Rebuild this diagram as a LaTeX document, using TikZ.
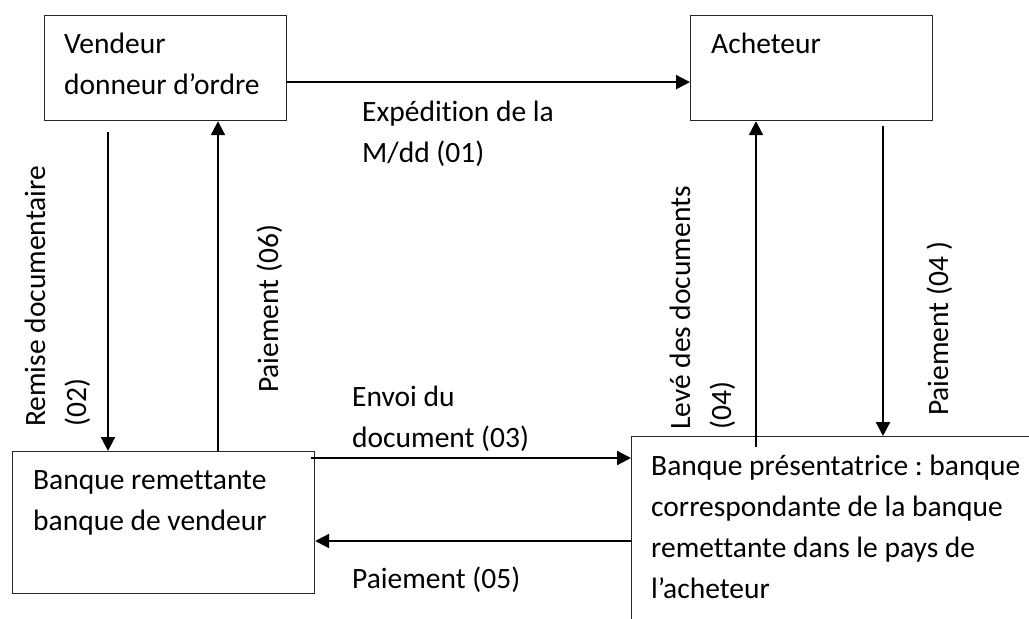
\documentclass[tikz,border=0pt]{standalone}
\usepackage{fontspec}
\setmainfont[Ligatures=NoCommon]{Carlito}
\frenchspacing
\usetikzlibrary{arrows.meta}
\tikzset{
  box/.style={
    draw=black!85,
    line width=1.2pt,
    rectangle,
    inner sep=0pt,
    anchor=north west
  },
  flow/.style={
    -{Triangle[length=14pt, width=14pt]},
    line width=2.2pt
  },
  txt/.style={
    font=\fontsize{29.5}{41}\selectfont,
    align=left,
    inner sep=0pt,
    anchor=base west
  },
  vtxt/.style={
    txt,
    rotate=90
  }
}

\begin{document}
\begin{tikzpicture}[x=1pt, y=-1pt]
    \clip (0,0) rectangle (1029,619);

    % les quatre cases
    \node[box, minimum width=242pt, minimum height=105pt] (vendeur) at (44,15) {};
    \node[box, minimum width=242pt, minimum height=105pt] (acheteur) at (690,15) {};
    \node[box, minimum width=302pt, minimum height=142pt] (remettante) at (12,451) {};
    \node[box, minimum width=420pt, minimum height=200pt] (presentatrice) at (631,436) {};

    % textes des cases (base = derniere ligne)
    \node[txt] (vendeurtxt) at ([xshift=20pt, yshift=-79pt]vendeur.north west) {Vendeur\\donneur d’ordre};
    \node[txt] (acheteurtxt) at ([xshift=21pt, yshift=-38pt]acheteur.north west) {Acheteur};
    \node[txt] (remettantetxt) at ([xshift=21pt, yshift=-79pt]remettante.north west) {Banque remettante\\banque de vendeur};
    \node[txt] (presentatricetxt) at ([xshift=20pt, yshift=-162pt]presentatrice.north west) {Banque présentatrice : banque\\correspondante de la banque\\remettante dans le pays de\\l’acheteur};

    % points de depart des fleches
    \coordinate (remise) at ([xshift=64pt, yshift=-11pt]vendeur.south west);
    \coordinate (paie6) at ([xshift=174pt]vendeur.south west);
    \coordinate (envoi) at ([xshift=-4pt, yshift=-7pt]remettante.north east);
    \coordinate (paie5) at ([yshift=-90pt]remettante.north east);
    \coordinate (leve) at ([xshift=125pt, yshift=-11pt]presentatrice.north west);
    \coordinate (paie4) at ([xshift=193pt, yshift=-5pt]acheteur.south west);

    % fleches
    \draw[flow] ([yshift=-14pt]vendeur.east) -- ([yshift=-14pt]acheteur.west);
    \draw[flow] (remise) -- (remise |- remettante.north);
    \draw[flow] (paie6 |- remettante.north) -- (paie6);
    \draw[flow] (envoi) -- (envoi -| presentatrice.west);
    \draw[flow] (paie5 -| presentatrice.west) -- (paie5);
    \draw[flow] (leve) -- (leve |- acheteur.south);
    \draw[flow] (paie4) -- (paie4 |- presentatrice.north);

    % etiquettes
    \node[txt] (l01) at (362,162) {Expédition de la\\M/dd (01)};
    \node[vtxt] (l02) at (86,427) {Remise documentaire\\(02)};
    \node[txt] (l03) at (352,447) {Envoi du\\document (03)};
    \node[vtxt] (l04a) at (731,430) {Levé des documents\\(04)};
    \node[vtxt] (l04b) at (948,416) {Paiement (04 )};
    \node[txt] (l05) at (352,588) {Paiement (05)};
    \node[vtxt] (l06) at (278,393) {Paiement (06)};

\end{tikzpicture}
\end{document}
